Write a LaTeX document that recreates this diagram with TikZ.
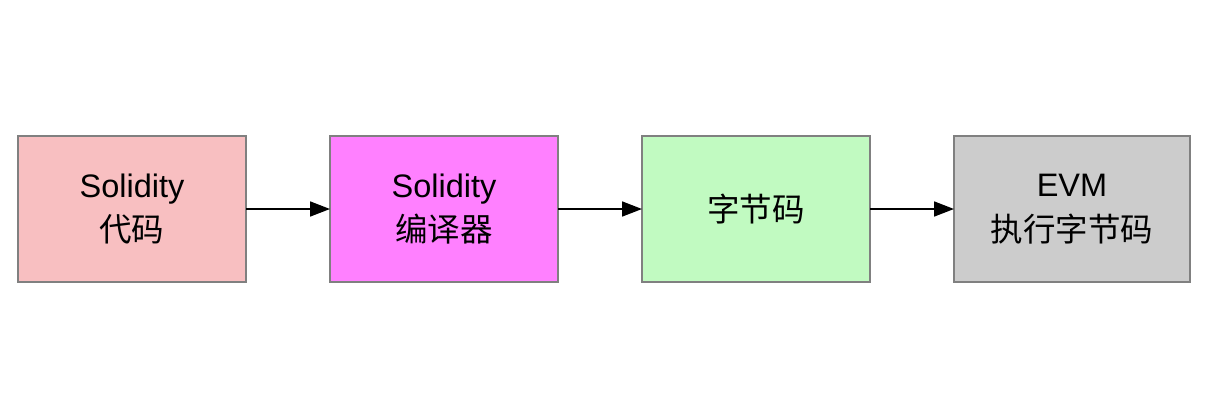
\documentclass[tikz,border=0pt]{standalone}
\usepackage{fontspec}
\setmainfont{Liberation Sans}
\newfontfamily\cjk{Noto Sans CJK SC}
\usepackage{tikz}
\usetikzlibrary{arrows.meta,positioning}
\definecolor{srcfill}{HTML}{F8BFC1}
\definecolor{compfill}{HTML}{FF80FF}
\definecolor{bytefill}{HTML}{C1FAC1}
\definecolor{evmfill}{HTML}{CCCCCC}
\definecolor{edge}{HTML}{808080}

\begin{document}
\begin{tikzpicture}[
  stage/.style={draw=edge, line width=0.9pt, outer sep=0pt, minimum width=4.56cm, minimum height=2.92cm, align=center, inner sep=0pt, font=\fontsize{18.5}{25.5}\selectfont},
  arr/.style={-{Triangle[length=0.4cm, width=0.3cm]}, line width=1pt, black}
]
  \useasboundingbox (0,0) rectangle (24.32,8.04);
  \node[stage, fill=srcfill] (src) at (2.64,3.86) {Solidity\\{\cjk 代码}};
  \node[stage, fill=compfill, right=1.68cm of src] (comp) {Solidity\\{\cjk 编译器}};
  \node[stage, fill=bytefill, right=1.68cm of comp] (byte) {{\cjk 字节码}};
  \node[stage, fill=evmfill, minimum width=4.72cm, right=1.68cm of byte] (evm) {EVM\\{\cjk 执行字节码}};

  \draw[arr] (src) -- (comp);
  \draw[arr] (comp) -- (byte);
  \draw[arr] (byte) -- (evm);
\end{tikzpicture}
\end{document}
